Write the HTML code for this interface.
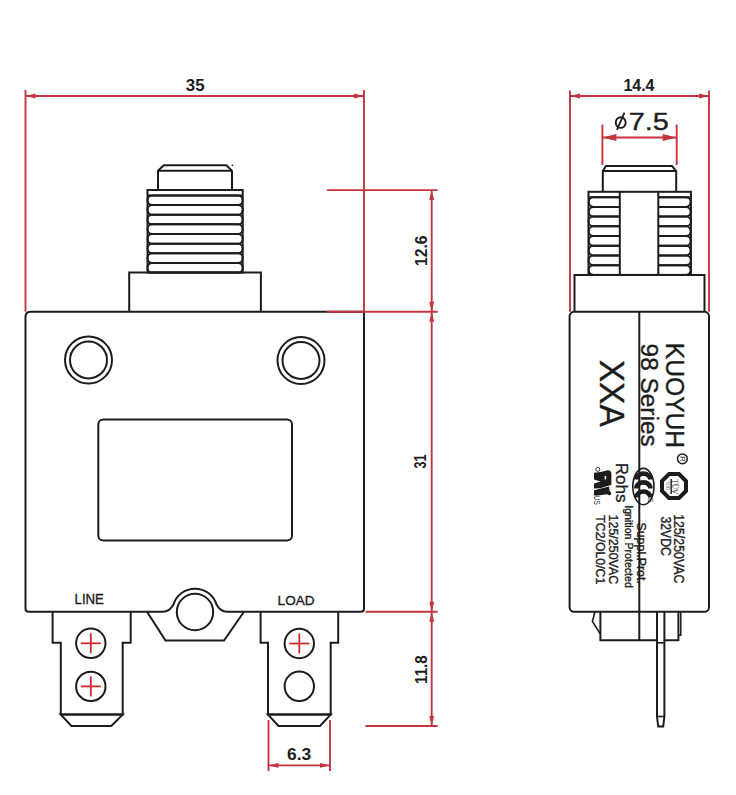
<!DOCTYPE html>
<html><head><meta charset="utf-8"><style>
html,body{margin:0;padding:0;background:#fff;}
svg{display:block;font-family:"Liberation Sans",sans-serif;}
</style></head><body>
<svg width="736" height="795" viewBox="0 0 736 795">
<rect width="736" height="795" fill="#fff"/>
<path d="M158,190 V170.8 L163.8,165.3 H226.4 L232,170.8 V190" fill="none" stroke="#1c1c1c" stroke-width="2.0"/>
<line x1="158" y1="170.8" x2="232" y2="170.8" stroke="#1c1c1c" stroke-width="2.0"/>
<circle cx="232.4" cy="165.4" r="0.8" fill="#1c1c1c"/>
<rect x="147.5" y="190" width="95.2" height="82.6" fill="none" stroke="#1c1c1c" stroke-width="2.0"/>
<line x1="147.5" y1="195.4" x2="242.7" y2="195.4" stroke="#1c1c1c" stroke-width="2.0"/>
<rect x="147.5" y="195.40" width="95.2" height="9.65" rx="4.7" fill="none" stroke="#1c1c1c" stroke-width="2.0"/>
<rect x="147.5" y="205.05" width="95.2" height="9.65" rx="4.7" fill="none" stroke="#1c1c1c" stroke-width="2.0"/>
<rect x="147.5" y="214.70" width="95.2" height="9.65" rx="4.7" fill="none" stroke="#1c1c1c" stroke-width="2.0"/>
<rect x="147.5" y="224.35" width="95.2" height="9.65" rx="4.7" fill="none" stroke="#1c1c1c" stroke-width="2.0"/>
<rect x="147.5" y="234.00" width="95.2" height="9.65" rx="4.7" fill="none" stroke="#1c1c1c" stroke-width="2.0"/>
<rect x="147.5" y="243.65" width="95.2" height="9.65" rx="4.7" fill="none" stroke="#1c1c1c" stroke-width="2.0"/>
<rect x="147.5" y="253.30" width="95.2" height="9.65" rx="4.7" fill="none" stroke="#1c1c1c" stroke-width="2.0"/>
<rect x="147.5" y="262.95" width="95.2" height="9.65" rx="4.7" fill="none" stroke="#1c1c1c" stroke-width="2.0"/>
<path d="M129.2,311.7 V272.6 H260.9 V311.7" fill="none" stroke="#1c1c1c" stroke-width="2.0"/>
<path d="M25.5,316.7 Q25.5,311.7 30.5,311.7 H364 V608.5 Q364,611.8 361,611.8 H227 Q220.5,611.8 216.5,604.5 A22.5,22.5 0 0 0 173.5,604.5 Q169.5,611.8 163,611.8 H28.5 Q25.5,611.8 25.5,608.8 Z" fill="none" stroke="#1c1c1c" stroke-width="2.0"/>
<circle cx="88.5" cy="360" r="23.5" fill="none" stroke="#1c1c1c" stroke-width="2.0"/>
<circle cx="88.5" cy="360" r="18.5" fill="none" stroke="#1c1c1c" stroke-width="2.0"/>
<circle cx="301" cy="360.5" r="23.5" fill="none" stroke="#1c1c1c" stroke-width="2.0"/>
<circle cx="301" cy="360.5" r="18.5" fill="none" stroke="#1c1c1c" stroke-width="2.0"/>
<rect x="98.3" y="419.6" width="193.7" height="120.8" rx="5" fill="none" stroke="#1c1c1c" stroke-width="2.0"/>
<path d="M147,611.8 L165.5,640.5 H224 L244,611.8" fill="none" stroke="#1c1c1c" stroke-width="2.0"/>
<circle cx="195" cy="612" r="18.2" fill="none" stroke="#1c1c1c" stroke-width="2.0"/>
<path d="M52.6,611.8 V642.8 H60.8 V714.6 H122.7 V642.8 H130.7 V611.8" fill="none" stroke="#1c1c1c" stroke-width="2.0"/>
<path d="M60.8,714.6 L71.4,726 H111.3 L122.7,714.6 Z" fill="none" stroke="#1c1c1c" stroke-width="2.0"/>
<path d="M260.6,611.8 V642.8 H268 V714.6 H330.7 V642.8 H338.2 V611.8" fill="none" stroke="#1c1c1c" stroke-width="2.0"/>
<path d="M268,714.6 L278.5,726 H320 L330.7,714.6 Z" fill="none" stroke="#1c1c1c" stroke-width="2.0"/>
<circle cx="90.8" cy="643.3" r="14.7" fill="none" stroke="#1c1c1c" stroke-width="2.0"/>
<line x1="80.8" y1="643.3" x2="100.8" y2="643.3" stroke="#d02a30" stroke-width="1.8"/>
<line x1="90.8" y1="633.3" x2="90.8" y2="653.3" stroke="#d02a30" stroke-width="1.8"/>
<circle cx="90.8" cy="686.4" r="14.7" fill="none" stroke="#1c1c1c" stroke-width="2.0"/>
<line x1="80.8" y1="686.4" x2="100.8" y2="686.4" stroke="#d02a30" stroke-width="1.8"/>
<line x1="90.8" y1="676.4" x2="90.8" y2="696.4" stroke="#d02a30" stroke-width="1.8"/>
<circle cx="299.3" cy="643.5" r="14.7" fill="none" stroke="#1c1c1c" stroke-width="2.0"/>
<line x1="289.3" y1="643.5" x2="309.3" y2="643.5" stroke="#d02a30" stroke-width="1.8"/>
<line x1="299.3" y1="633.5" x2="299.3" y2="653.5" stroke="#d02a30" stroke-width="1.8"/>
<circle cx="299.3" cy="686.3" r="14.7" fill="none" stroke="#1c1c1c" stroke-width="2.0"/>
<text transform="matrix(0.13238,0,0,0.14058,74.54,603.90)" font-size="100" font-weight="normal" font-family="Liberation Sans" fill="#1c1c1c" stroke="#1c1c1c" stroke-width="2.56">LINE</text>
<text transform="matrix(0.13552,0,0,0.13662,277.62,604.56)" font-size="100" font-weight="normal" font-family="Liberation Sans" fill="#1c1c1c" stroke="#1c1c1c" stroke-width="2.57">LOAD</text>
<line x1="25.5" y1="90" x2="25.5" y2="311.7" stroke="#c4343c" stroke-width="1.9"/>
<line x1="364" y1="90" x2="364" y2="311.7" stroke="#c4343c" stroke-width="1.9"/>
<line x1="25.5" y1="96" x2="364" y2="96" stroke="#c4343c" stroke-width="1.9"/>
<path d="M25.5,96.0 L35.5,93.6 L35.5,98.4 Z" fill="#c4343c" stroke="none"/>
<path d="M364.0,96.0 L354.0,98.4 L354.0,93.6 Z" fill="#c4343c" stroke="none"/>
<text transform="matrix(0.16887,0,0,0.15634,185.76,90.54)" font-size="100" font-weight="bold" font-family="Liberation Sans" fill="#1c1c1c">35</text>
<line x1="327" y1="190.1" x2="437.7" y2="190.1" stroke="#c4343c" stroke-width="1.9"/>
<line x1="327" y1="311.8" x2="437.7" y2="311.8" stroke="#c4343c" stroke-width="1.9"/>
<line x1="365.5" y1="611.8" x2="437.7" y2="611.8" stroke="#c4343c" stroke-width="1.9"/>
<line x1="365.5" y1="726" x2="437.7" y2="726" stroke="#c4343c" stroke-width="1.9"/>
<line x1="431.7" y1="190.1" x2="431.7" y2="726" stroke="#c4343c" stroke-width="1.9"/>
<path d="M431.7,190.1 L434.1,200.1 L429.3,200.1 Z" fill="#c4343c" stroke="none"/>
<path d="M431.7,311.8 L429.3,301.8 L434.1,301.8 Z" fill="#c4343c" stroke="none"/>
<path d="M431.7,311.8 L434.1,321.8 L429.3,321.8 Z" fill="#c4343c" stroke="none"/>
<path d="M431.7,611.8 L429.3,601.8 L434.1,601.8 Z" fill="#c4343c" stroke="none"/>
<path d="M431.7,611.8 L434.1,621.8 L429.3,621.8 Z" fill="#c4343c" stroke="none"/>
<path d="M431.7,726.0 L429.3,716.0 L434.1,716.0 Z" fill="#c4343c" stroke="none"/>
<text transform="matrix(0,-0.15676,0.16338,0,426.54,265.94)" font-size="100" font-weight="bold" font-family="Liberation Sans" fill="#1c1c1c">12.6</text>
<text transform="matrix(0,-0.12642,0.16056,0,426.24,468.55)" font-size="100" font-weight="bold" font-family="Liberation Sans" fill="#1c1c1c">31</text>
<text transform="matrix(0,-0.15167,0.16761,0,426.83,683.91)" font-size="100" font-weight="bold" font-family="Liberation Sans" fill="#1c1c1c">11.8</text>
<line x1="268.5" y1="720" x2="268.5" y2="771" stroke="#c4343c" stroke-width="1.9"/>
<line x1="330" y1="720" x2="330" y2="771" stroke="#c4343c" stroke-width="1.9"/>
<line x1="268.5" y1="765.4" x2="330" y2="765.4" stroke="#c4343c" stroke-width="1.9"/>
<path d="M268.5,765.4 L278.5,763.0 L278.5,767.8 Z" fill="#c4343c" stroke="none"/>
<path d="M330.0,765.4 L320.0,767.8 L320.0,763.0 Z" fill="#c4343c" stroke="none"/>
<text transform="matrix(0.17405,0,0,0.15634,287.00,760.04)" font-size="100" font-weight="bold" font-family="Liberation Sans" fill="#1c1c1c">6.3</text>
<line x1="570" y1="90.5" x2="570" y2="311.7" stroke="#c4343c" stroke-width="1.9"/>
<line x1="709" y1="90.5" x2="709" y2="311.7" stroke="#c4343c" stroke-width="1.9"/>
<line x1="570" y1="96" x2="709" y2="96" stroke="#c4343c" stroke-width="1.9"/>
<path d="M570.0,96.0 L580.0,93.6 L580.0,98.4 Z" fill="#c4343c" stroke="none"/>
<path d="M709.0,96.0 L699.0,98.4 L699.0,93.6 Z" fill="#c4343c" stroke="none"/>
<text transform="matrix(0.15957,0,0,0.15797,623.44,90.50)" font-size="100" font-weight="bold" font-family="Liberation Sans" fill="#1c1c1c">14.4</text>
<line x1="602.4" y1="124.5" x2="602.4" y2="165" stroke="#c4343c" stroke-width="1.9"/>
<line x1="676.7" y1="124.5" x2="676.7" y2="165" stroke="#c4343c" stroke-width="1.9"/>
<line x1="602.4" y1="137.5" x2="676.7" y2="137.5" stroke="#c4343c" stroke-width="1.9"/>
<path d="M602.4,137.5 L616.4,133.9 L616.4,141.1 Z" fill="#c4343c" stroke="none"/>
<path d="M676.7,137.5 L662.7,141.1 L662.7,133.9 Z" fill="#c4343c" stroke="none"/>
<text transform="matrix(0.28923,0,0,0.24714,628.75,129.65)" font-size="100" font-weight="normal" font-family="Liberation Sans" fill="#1c1c1c" stroke="#1c1c1c" stroke-width="1.31">7.5</text>
<ellipse cx="620.7" cy="122.6" rx="5.0" ry="5.3" fill="none" stroke="#1c1c1c" stroke-width="1.9"/>
<line x1="616.9" y1="129.9" x2="624.5" y2="112.6" stroke="#1c1c1c" stroke-width="1.8"/>
<path d="M602.8,191.8 V171 L606,166 H672 L676.2,171 V191.8" fill="none" stroke="#1c1c1c" stroke-width="2.0"/>
<line x1="602.8" y1="171" x2="676.2" y2="171" stroke="#1c1c1c" stroke-width="2.0"/>
<rect x="588.5" y="191.8" width="102.4" height="83.1" fill="none" stroke="#1c1c1c" stroke-width="2.0"/>
<line x1="619.8" y1="191.8" x2="619.8" y2="274.9" stroke="#1c1c1c" stroke-width="2.0"/>
<line x1="658.3" y1="191.8" x2="658.3" y2="274.9" stroke="#1c1c1c" stroke-width="2.0"/>
<line x1="588.5" y1="197.2" x2="619.8" y2="197.2" stroke="#1c1c1c" stroke-width="2.0"/>
<line x1="658.3" y1="197.2" x2="690.9" y2="197.2" stroke="#1c1c1c" stroke-width="2.0"/>
<path d="M619.8,197.20 H593.36 A4.86,4.86 0 0 0 593.36,206.91 H619.8" fill="none" stroke="#1c1c1c" stroke-width="2.0"/>
<path d="M658.3,197.20 H686.04 A4.86,4.86 0 0 1 686.04,206.91 H658.3" fill="none" stroke="#1c1c1c" stroke-width="2.0"/>
<path d="M619.8,206.91 H593.36 A4.86,4.86 0 0 0 593.36,216.62 H619.8" fill="none" stroke="#1c1c1c" stroke-width="2.0"/>
<path d="M658.3,206.91 H686.04 A4.86,4.86 0 0 1 686.04,216.62 H658.3" fill="none" stroke="#1c1c1c" stroke-width="2.0"/>
<path d="M619.8,216.62 H593.36 A4.86,4.86 0 0 0 593.36,226.34 H619.8" fill="none" stroke="#1c1c1c" stroke-width="2.0"/>
<path d="M658.3,216.62 H686.04 A4.86,4.86 0 0 1 686.04,226.34 H658.3" fill="none" stroke="#1c1c1c" stroke-width="2.0"/>
<path d="M619.8,226.34 H593.36 A4.86,4.86 0 0 0 593.36,236.05 H619.8" fill="none" stroke="#1c1c1c" stroke-width="2.0"/>
<path d="M658.3,226.34 H686.04 A4.86,4.86 0 0 1 686.04,236.05 H658.3" fill="none" stroke="#1c1c1c" stroke-width="2.0"/>
<path d="M619.8,236.05 H593.36 A4.86,4.86 0 0 0 593.36,245.76 H619.8" fill="none" stroke="#1c1c1c" stroke-width="2.0"/>
<path d="M658.3,236.05 H686.04 A4.86,4.86 0 0 1 686.04,245.76 H658.3" fill="none" stroke="#1c1c1c" stroke-width="2.0"/>
<path d="M619.8,245.76 H593.36 A4.86,4.86 0 0 0 593.36,255.47 H619.8" fill="none" stroke="#1c1c1c" stroke-width="2.0"/>
<path d="M658.3,245.76 H686.04 A4.86,4.86 0 0 1 686.04,255.47 H658.3" fill="none" stroke="#1c1c1c" stroke-width="2.0"/>
<path d="M619.8,255.47 H593.36 A4.86,4.86 0 0 0 593.36,265.19 H619.8" fill="none" stroke="#1c1c1c" stroke-width="2.0"/>
<path d="M658.3,255.47 H686.04 A4.86,4.86 0 0 1 686.04,265.19 H658.3" fill="none" stroke="#1c1c1c" stroke-width="2.0"/>
<path d="M619.8,265.19 H593.36 A4.86,4.86 0 0 0 593.36,274.90 H619.8" fill="none" stroke="#1c1c1c" stroke-width="2.0"/>
<path d="M658.3,265.19 H686.04 A4.86,4.86 0 0 1 686.04,274.90 H658.3" fill="none" stroke="#1c1c1c" stroke-width="2.0"/>
<path d="M574.5,311.7 V274.9 H704.5 V311.7" fill="none" stroke="#1c1c1c" stroke-width="2.0"/>
<rect x="569.6" y="311.8" width="139.4" height="300" rx="4.5" fill="none" stroke="#1c1c1c" stroke-width="2.0"/>
<line x1="639.3" y1="312" x2="639.3" y2="640.8" stroke="#1c1c1c" stroke-width="2.0"/>
<path d="M600.4,611.8 V640.3 H657 M664.4,640.3 H678.4 V611.8" fill="none" stroke="#1c1c1c" stroke-width="2.0"/>
<path d="M595,611.8 L592.4,621.4 L600.4,634.2" fill="none" stroke="#1c1c1c" stroke-width="1.6"/>
<path d="M680.8,611.8 V635.2 H678.4" fill="none" stroke="#1c1c1c" stroke-width="1.5"/>
<path d="M657,611.8 V716.5 L658.2,726.4 H663.2 L664.4,716.5 V611.8" fill="none" stroke="#1c1c1c" stroke-width="2.0"/>
<line x1="657" y1="642.8" x2="664.4" y2="642.8" stroke="#1c1c1c" stroke-width="1.6"/>
<line x1="657" y1="716.5" x2="664.4" y2="716.5" stroke="#1c1c1c" stroke-width="1.6"/>
<text transform="matrix(0,0.24636,-0.26197,0,665.66,342.83)" font-size="100" font-weight="normal" font-family="Liberation Sans" fill="#1c1c1c" stroke="#1c1c1c" stroke-width="1.38">KUOYUH</text>
<text transform="matrix(0,0.24420,-0.23378,0,640.83,343.58)" font-size="100" font-weight="normal" font-family="Liberation Sans" fill="#1c1c1c" stroke="#1c1c1c" stroke-width="1.46">98 Series</text>
<text transform="matrix(0,0.33604,-0.34638,0,600.00,359.69)" font-size="100" font-weight="normal" font-family="Liberation Sans" fill="#1c1c1c" stroke="#1c1c1c" stroke-width="1.03">XXA</text>
<text transform="matrix(0,0.12395,-0.13784,0,673.84,514.21)" font-size="100" font-weight="normal" font-family="Liberation Sans" fill="#1c1c1c" stroke="#1c1c1c" stroke-width="2.67">125/250VAC</text>
<text transform="matrix(0,0.12229,-0.13944,0,660.84,516.41)" font-size="100" font-weight="normal" font-family="Liberation Sans" fill="#1c1c1c" stroke="#1c1c1c" stroke-width="2.67">32VDC</text>
<text transform="matrix(0,0.12453,-0.12660,0,637.16,522.38)" font-size="100" font-weight="normal" font-family="Liberation Sans" fill="#1c1c1c" stroke="#1c1c1c" stroke-width="2.79">Suppl.Prot.</text>
<text transform="matrix(0,0.10629,-0.11170,0,625.25,505.24)" font-size="100" font-weight="normal" font-family="Liberation Sans" fill="#1c1c1c" stroke="#1c1c1c" stroke-width="3.21">Ignition Protected</text>
<text transform="matrix(0,0.12450,-0.12973,0,609.23,514.60)" font-size="100" font-weight="normal" font-family="Liberation Sans" fill="#1c1c1c" stroke="#1c1c1c" stroke-width="2.75">125/250VAC</text>
<text transform="matrix(0,0.12292,-0.12973,0,595.53,515.35)" font-size="100" font-weight="normal" font-family="Liberation Sans" fill="#1c1c1c" stroke="#1c1c1c" stroke-width="2.77">TC2/OL0/C1</text>
<text transform="matrix(0,0.17117,-0.16351,0,615.86,462.63)" font-size="100" font-weight="normal" font-family="Liberation Sans" fill="#1c1c1c" stroke="#1c1c1c" stroke-width="2.09">Rohs</text>
<circle cx="682.4" cy="458.8" r="4.9" fill="none" stroke="#1c1c1c" stroke-width="1.5"/>
<text transform="translate(680.2,458.9) rotate(90)" font-size="7.5" text-anchor="middle" fill="#1c1c1c">R</text>
<polygon points="686.01,490.97 678.97,498.01 669.03,498.01 661.99,490.97 661.99,481.03 669.03,473.99 678.97,473.99 686.01,481.03" fill="none" stroke="#1c1c1c" stroke-width="4"/>
<text transform="matrix(0,0.073,-0.088,0,672.3,479.2)" font-size="100" font-family="Liberation Serif" fill="#1c1c1c">TÜV</text>
<line x1="671.2" y1="479" x2="671.2" y2="494" stroke="#1c1c1c" stroke-width="1.4"/>
<text transform="matrix(0,0.042,-0.05,0,666.2,481.2)" font-size="100" fill="#1c1c1c" fill-opacity="0.7">SÜD</text>
<defs><clipPath id="ccl"><ellipse cx="643.4" cy="486.6" rx="10.8" ry="18.4"/></clipPath></defs>
<g clip-path="url(#ccl)">
<path d="M633.9,479.5 A9.5,8.3 0 0 1 652.9,479.5 L648.6,479.5 L648.4,480.5 A5,4.6 0 0 0 638.4,480.5 L638.2,479.5 Z" fill="#1c1c1c"/>
<path d="M633.9,488.40000000000003 A9.5,8.3 0 0 1 652.9,488.40000000000003 L648.6,488.40000000000003 L648.4,489.3 A5,4.6 0 0 0 638.4,489.3 L638.2,488.40000000000003 Z" fill="#1c1c1c"/>
<path d="M633.9,497.5 A9.5,8.3 0 0 1 652.9,497.5 L648.6,497.5 L648.4,498.40000000000003 A5,4.6 0 0 0 638.4,498.40000000000003 L638.2,497.5 Z" fill="#1c1c1c"/>
</g>
<ellipse cx="643.4" cy="486.6" rx="10.6" ry="18.2" fill="none" stroke="#1c1c1c" stroke-width="1.6"/>
<text transform="matrix(0,0.07,-0.07,0,647.5,497.8)" font-size="100" fill="#1c1c1c">S</text>
<path d="M594,472.8 L598.5,472.2 L603,471.6 L607.5,470.2 Q611.4,470 611.4,474 L611.4,484.8 L600.5,488.2 L594,488.6 L594,483.4 L600.5,481.6 L594,479.6 Z" fill="#1c1c1c"/>
<path d="M594,490.2 L609.2,486.6 L609.6,491.2 Q612,492.5 611,494.6 Q609.5,496.2 607.2,494.2 L598,495.6 L594,495.4 Z" fill="#1c1c1c"/>
<rect x="604.6" y="476" width="1.6" height="3.4" fill="#fff"/>
<circle cx="597.8" cy="469.4" r="2.0" fill="none" stroke="#1c1c1c" stroke-width="0.9"/>
<text transform="matrix(0,0.064,-0.09,0,594,495.8)" font-size="100" fill="#1c1c1c">US</text>
</svg>
</body></html>
